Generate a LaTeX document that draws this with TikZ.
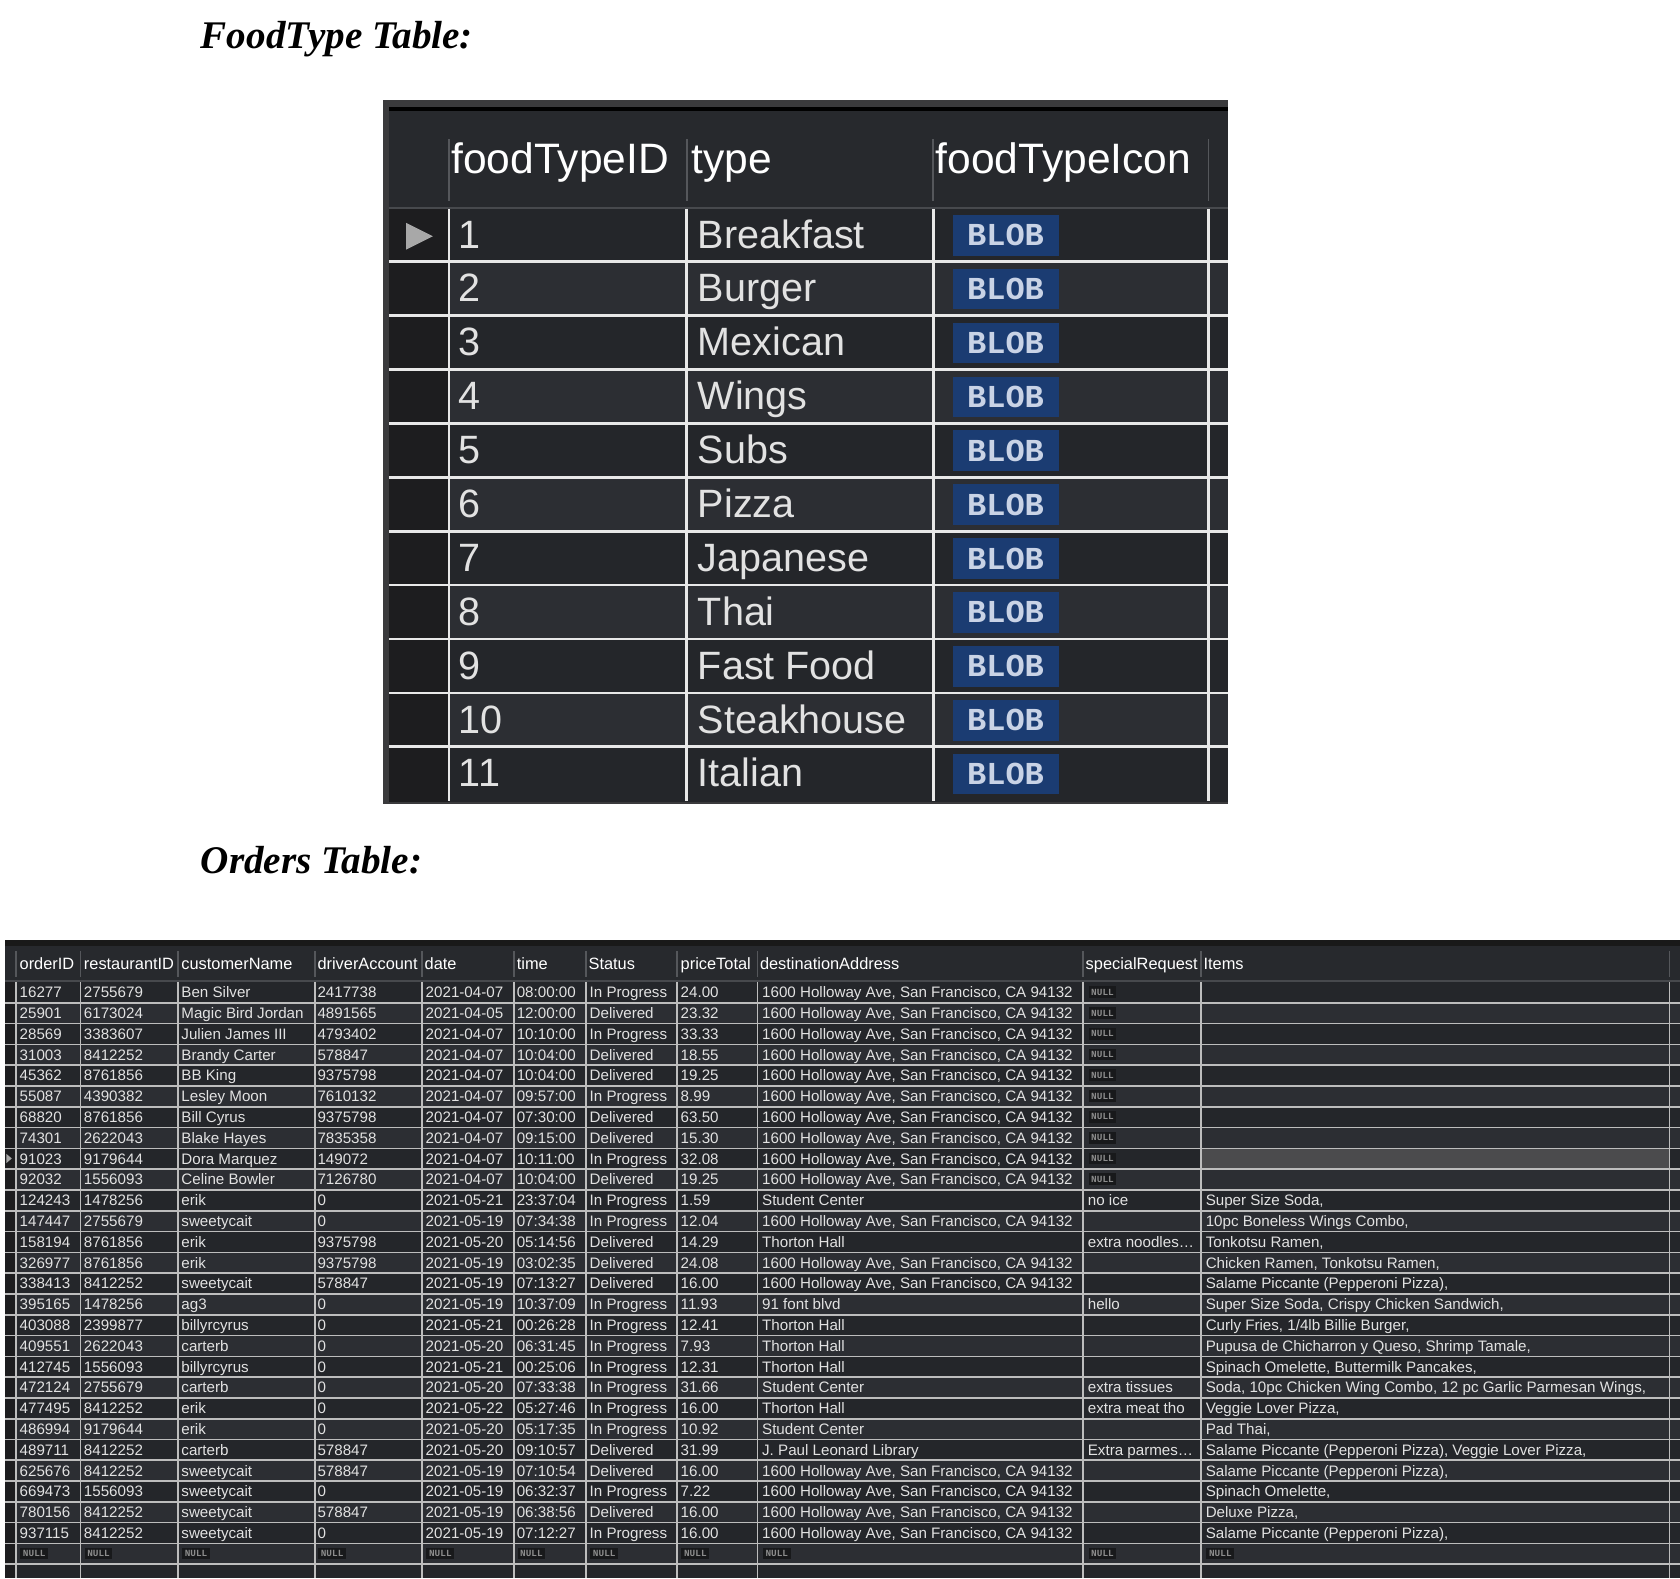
\documentclass[tikz,border=0pt]{standalone}
\usepackage{fontspec}
\setmainfont{Liberation Sans}
\newfontfamily\headingfont{Liberation Serif}
\newfontfamily\blobfont{Liberation Mono}
\usetikzlibrary{calc}

\definecolor{frame}{HTML}{3A3A3C}
\definecolor{panel}{HTML}{27292D}
\definecolor{rowdark}{HTML}{24262A}
\definecolor{rowlight}{HTML}{2C2E33}
\definecolor{gutter}{HTML}{1D1D1F}
\definecolor{headline}{HTML}{47494D}
\definecolor{headsep}{HTML}{55575B}
\definecolor{gridwhite}{HTML}{E8E8E8}
\definecolor{gridgray}{HTML}{BDBDBD}
\definecolor{celltext}{HTML}{E2E2E2}
\definecolor{blob}{HTML}{1B3C72}
\definecolor{blobtext}{HTML}{C9D3E6}
\definecolor{nullfill}{HTML}{18191B}
\definecolor{nulltext}{HTML}{8C8C8C}
\definecolor{picked}{HTML}{4B4B4D}
\definecolor{marker}{HTML}{A8A8A8}

\newcommand{\Holloway}{1600 Holloway Ave, San Francisco, CA 94132}
\newcommand{\fwd}{/}

\begin{document}
\begin{tikzpicture}[x=0.02cm, y=-0.02cm,
heading/.style={anchor=base west, inner sep=0, font=\headingfont\bfseries\itshape\fontsize{20.8}{24}\selectfont},
bighead/.style={anchor=base west, inner sep=0, text=white, font=\fontsize{22.6}{26}\selectfont},
bigcell/.style={anchor=base west, inner sep=0, text=celltext, font=\fontsize{21}{25}\selectfont},
blobbox/.style={fill=blob, inner sep=0, minimum width=1.98cm, minimum height=0.76cm, text=blobtext, font=\blobfont\bfseries\fontsize{17}{20}\selectfont},
smallhead/.style={anchor=base west, inner sep=0, text=white, font=\fontsize{8.7}{10}\selectfont},
cell/.style={anchor=base west, inner sep=0, text=celltext, font=\fontsize{8.05}{9}\selectfont},
nullbox/.style={fill=nullfill, inner sep=0, minimum width=0.52cm, minimum height=0.22cm, text=nulltext, font=\blobfont\bfseries\fontsize{5}{6}\selectfont},
ftgrid/.style={gridwhite, line width=0.05cm},
ogrid/.style={gridgray, line width=0.03cm},
hsep/.style={headsep, line width=0.03cm},
]
\useasboundingbox (0,0) rectangle (1568,1473);

%%%%%%%%%%%%%%%%%%%%%%%% FOODTYPE TABLE %%%%%%%%%%%%%%%%%%%%%%%%%%%
\node[heading] (FoodTypeTitle) at (187,45) {FoodType Table:};

\fill[frame] (357,93) rectangle (1146,750);
\fill[black] (363,99.5) rectangle (1146,103.5);
\fill[panel] (363,103.5) rectangle (1146,193);
\fill[headline] (363,193) rectangle (1146,195);

\foreach \id/\kind [count=\k] in {1/Breakfast, 2/Burger, 3/Mexican, 4/Wings, 5/Subs,
  6/Pizza, 7/Japanese, 8/Thai, 9/Fast Food, 10/Steakhouse, 11/Italian}{
  \pgfmathsetmacro\rowtop{195+(\k-1)*50.3}
  \pgfmathsetmacro\rowbot{\rowtop+50.3}
  \ifodd\k\relax \def\rowcol{rowdark}\else \def\rowcol{rowlight}\fi
  \fill[\rowcol] (363,\rowtop) rectangle (1146,\rowbot);
  \fill[gutter] (363,\rowtop) rectangle (419,\rowbot);
  \node[bigcell] (ftid\k) at (428,\rowtop+36.5) {\id};
  \node[bigcell] (fttype\k) at (651,\rowtop+36.5) {\kind};
  \node[blobbox] (ftblob\k) at (938.5,\rowtop+24.5) {BLOB};
}
\foreach \k in {1,...,10}
  \draw[ftgrid] (363,{195+\k*50.3-1}) -- (1146,{195+\k*50.3-1});
\foreach \x in {419,641,871,1128}{
  \draw[ftgrid] (\x,195) -- (\x,748);
  \draw[hsep] (\x,130) -- (\x,188);
}
\fill[marker] (379,208) -- (379,233) -- (404,220.5) -- cycle; % current row

\node[bighead] (fthID) at (421,162) {foodTypeID};
\node[bighead] (fthType) at (645,162) {type};
\node[bighead] (fthIcon) at (873,162) {foodTypeIcon};

%%%%%%%%%%%%%%%%%%%%%%%% ORDERS TABLE %%%%%%%%%%%%%%%%%%%%%%%%%%%
\node[heading] (OrdersTitle) at (187,815) {Orders Table:};

\fill[black!90] (5,877.5) rectangle (1568,883);
\fill[panel] (5,883) rectangle (1568,914.5);
\fill[headline] (5,914.5) rectangle (1568,916.5);

\foreach \rowno in {1,...,29}{
  \pgfmathsetmacro\rowtop{916.5+(\rowno-1)*19.41}
  \pgfmathsetmacro\rowbot{min(\rowtop+19.41,1473)}
  \ifodd\rowno\relax \def\rowcol{rowdark}\else \def\rowcol{rowlight}\fi
  \fill[\rowcol] (5,\rowtop) rectangle (1568,\rowbot);
}
\fill[picked] (1121,{916.5+8*19.41}) rectangle (1558,{916.5+9*19.41}); % selected cell
\fill[gutter] (5,916.5) rectangle (15,1473);
\foreach \rowno in {2,...,29}
  \draw[ogrid] (5,{916.5+(\rowno-1)*19.41}) -- (1568,{916.5+(\rowno-1)*19.41});
\foreach \x in {15,75,166,294,394,480,547,632,707,1011,1121,1558}{
  \draw[ogrid] (\x,916.5) -- (\x,1473);
  \draw[hsep] (\x,888) -- (\x,912);
}
\fill[marker] (6,1077) -- (6,1085.5) -- (11,1081.2) -- cycle;

%% header
\node[smallhead] (hOrder) at (18,905) {orderID};
\node[smallhead] (hRest) at (78,905) {restaurantID};
\node[smallhead] (hCust) at (169,905) {customerName};
\node[smallhead] (hDriver) at (296,905) {driverAccount};
\node[smallhead] (hDate) at (396,905) {date};
\node[smallhead] (hTime) at (482,905) {time};
\node[smallhead] (hStatus) at (549,905) {Status};
\node[smallhead] (hPrice) at (635,905) {priceTotal};
\node[smallhead] (hDest) at (709,905) {destinationAddress};
\node[smallhead] (hReq) at (1013,905) {specialRequest};
\node[smallhead] (hItems) at (1123,905) {Items};

%% rows
\foreach \oid/\rid/\cust/\drv/\odate/\otime/\stat/\price/\dest/\req/\items [count=\rowno] in {
16277/2755679/Ben Silver/2417738/2021-04-07/08:00:00/In Progress/24.00/\Holloway//,
25901/6173024/Magic Bird Jordan/4891565/2021-04-05/12:00:00/Delivered/23.32/\Holloway//,
28569/3383607/Julien James III/4793402/2021-04-07/10:10:00/In Progress/33.33/\Holloway//,
31003/8412252/Brandy Carter/578847/2021-04-07/10:04:00/Delivered/18.55/\Holloway//,
45362/8761856/BB King/9375798/2021-04-07/10:04:00/Delivered/19.25/\Holloway//,
55087/4390382/Lesley Moon/7610132/2021-04-07/09:57:00/In Progress/8.99/\Holloway//,
68820/8761856/Bill Cyrus/9375798/2021-04-07/07:30:00/Delivered/63.50/\Holloway//,
74301/2622043/Blake Hayes/7835358/2021-04-07/09:15:00/Delivered/15.30/\Holloway//,
91023/9179644/Dora Marquez/149072/2021-04-07/10:11:00/In Progress/32.08/\Holloway//,
92032/1556093/Celine Bowler/7126780/2021-04-07/10:04:00/Delivered/19.25/\Holloway//,
124243/1478256/erik/0/2021-05-21/23:37:04/In Progress/1.59/Student Center/no ice/{Super Size Soda,},
147447/2755679/sweetycait/0/2021-05-19/07:34:38/In Progress/12.04/\Holloway//{10pc Boneless Wings Combo,},
158194/8761856/erik/9375798/2021-05-20/05:14:56/Delivered/14.29/Thorton Hall/extra noodles…/{Tonkotsu Ramen,},
326977/8761856/erik/9375798/2021-05-19/03:02:35/Delivered/24.08/\Holloway//{Chicken Ramen, Tonkotsu Ramen,},
338413/8412252/sweetycait/578847/2021-05-19/07:13:27/Delivered/16.00/\Holloway//{Salame Piccante (Pepperoni Pizza),},
395165/1478256/ag3/0/2021-05-19/10:37:09/In Progress/11.93/91 font blvd/hello/{Super Size Soda, Crispy Chicken Sandwich,},
403088/2399877/billyrcyrus/0/2021-05-21/00:26:28/In Progress/12.41/Thorton Hall//{Curly Fries, 1\fwd 4lb Billie Burger,},
409551/2622043/carterb/0/2021-05-20/06:31:45/In Progress/7.93/Thorton Hall//{Pupusa de Chicharron y Queso, Shrimp Tamale,},
412745/1556093/billyrcyrus/0/2021-05-21/00:25:06/In Progress/12.31/Thorton Hall//{Spinach Omelette, Buttermilk Pancakes,},
472124/2755679/carterb/0/2021-05-20/07:33:38/In Progress/31.66/Student Center/extra tissues/{Soda, 10pc Chicken Wing Combo, 12 pc Garlic Parmesan Wings,},
477495/8412252/erik/0/2021-05-22/05:27:46/In Progress/16.00/Thorton Hall/extra meat tho/{Veggie Lover Pizza,},
486994/9179644/erik/0/2021-05-20/05:17:35/In Progress/10.92/Student Center//{Pad Thai,},
489711/8412252/carterb/578847/2021-05-20/09:10:57/Delivered/31.99/J. Paul Leonard Library/Extra parmes…/{Salame Piccante (Pepperoni Pizza), Veggie Lover Pizza,},
625676/8412252/sweetycait/578847/2021-05-19/07:10:54/Delivered/16.00/\Holloway//{Salame Piccante (Pepperoni Pizza),},
669473/1556093/sweetycait/0/2021-05-19/06:32:37/In Progress/7.22/\Holloway//{Spinach Omelette,},
780156/8412252/sweetycait/578847/2021-05-19/06:38:56/Delivered/16.00/\Holloway//{Deluxe Pizza,},
937115/8412252/sweetycait/0/2021-05-19/07:12:27/In Progress/16.00/\Holloway//{Salame Piccante (Pepperoni Pizza),}}{
  \pgfmathsetmacro\base{926+(\rowno-1)*19.41+5.2}
  \node[cell] (oid\rowno) at (18,\base) {\oid};
  \node[cell] (rid\rowno) at (78,\base) {\rid};
  \node[cell] (cust\rowno) at (169,\base) {\cust};
  \node[cell] (drv\rowno) at (296,\base) {\drv};
  \node[cell] (date\rowno) at (397,\base) {\odate};
  \node[cell] (time\rowno) at (482,\base) {\otime};
  \node[cell] (stat\rowno) at (550,\base) {\stat};
  \node[cell] (price\rowno) at (635,\base) {\price};
  \node[cell] (dest\rowno) at (711,\base) {\dest};
  \node[cell] (req\rowno) at (1015,\base) {\req};
  \node[cell] (items\rowno) at (1125,\base) {\items};
}
%% NULL markers
\foreach \rowno in {1,...,10}
  \node[nullbox] (reqnull\rowno) at (1029,{926+(\rowno-1)*19.41}) {NULL};
\foreach \x [count=\c] in {18,78,169,296,397,482,550,635,711,1015,1125}
  \node[nullbox] (lastnull\c) at (\x+14,1450) {NULL};
\end{tikzpicture}
\end{document}
